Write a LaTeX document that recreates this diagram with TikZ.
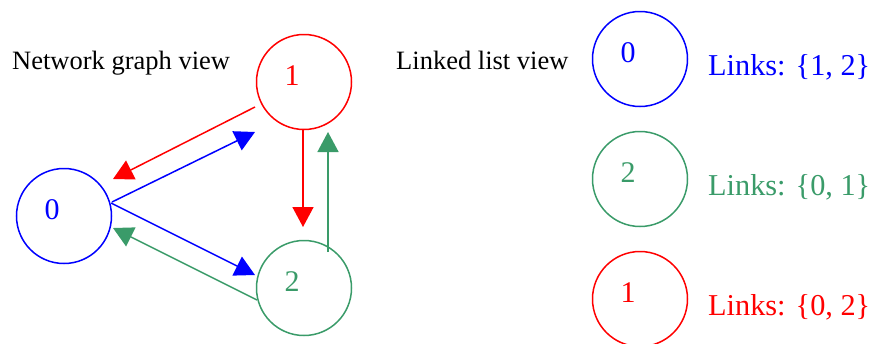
\documentclass[tikz,border=0pt]{standalone}
\usepackage{fontspec}
\setmainfont{Liberation Serif}
\usetikzlibrary{arrows.meta,calc}
\definecolor{cblue}{RGB}{0,0,255}
\definecolor{cred}{RGB}{255,0,0}
\definecolor{cgreen}{RGB}{58,155,105}
\tikzset{
  vtx/.style={circle,draw=#1,line width=1.5pt,minimum size=95pt,inner sep=0pt,
    label={[text=#1,font=\fontsize{30}{32}\selectfont,xshift=-12pt,yshift=6pt]center:\vtxlabel}},
  lnk/.style={draw=#1,line width=1.5pt,-{Triangle[length=20pt,width=21pt]},fill=none},
  viewlabel/.style={anchor=base west,inner sep=0pt,font=\fontsize{26.5}{28}\selectfont},
  linklabel/.style={anchor=base west,inner sep=0pt,text=#1,font=\fontsize{30.3}{32}\selectfont}
}
\newcommand{\vtxlabel}{}
\begin{document}
\begin{tikzpicture}[x=1pt,y=-1pt]
\useasboundingbox (0,0) rectangle (875,343);
% graph view
\renewcommand{\vtxlabel}{0}
\node[vtx=cblue] (n0) at (64,216) {};
\renewcommand{\vtxlabel}{1}
\node[vtx=cred] (n1) at (304,82) {};
\renewcommand{\vtxlabel}{2}
\node[vtx=cgreen] (n2) at (304,288) {};
\node[viewlabel] (gv) at (12,69) {Network graph view};
% connectors
\draw[lnk=cred] ($(n1)+(-49,25)$) -- ($(n0)+(49,-37)$);
\draw[lnk=cblue] ($(n0)+(48,-14)$) -- ($(n1)+(-49,50)$);
\draw[lnk=cblue] ($(n0)+(47,-13)$) -- ($(n2)+(-49,-13)$);
\draw[lnk=cgreen] ($(n2)+(-47,12)$) -- ($(n0)+(49,12)$);
\draw[lnk=cred] ($(n1)+(-1,48)$) -- ($(n2)+(-1,-61)$);
\draw[lnk=cgreen] ($(n2)+(24,-36)$) -- ($(n1)+(24,50)$);
% list view
\node[viewlabel] (lv) at (396,69) {Linked list view};
\renewcommand{\vtxlabel}{0}
\node[vtx=cblue] (l0) at (640,59) {};
\renewcommand{\vtxlabel}{2}
\node[vtx=cgreen] (l2) at (640,179) {};
\renewcommand{\vtxlabel}{1}
\node[vtx=cred] (l1) at (640,299) {};
\node[linklabel=cblue] (t0) at (708,75) {Links: \{1, 2\}};
\node[linklabel=cgreen] (t2) at (708,195) {Links: \{0, 1\}};
\node[linklabel=cred] (t1) at (708,315) {Links: \{0, 2\}};
\end{tikzpicture}
\end{document}
